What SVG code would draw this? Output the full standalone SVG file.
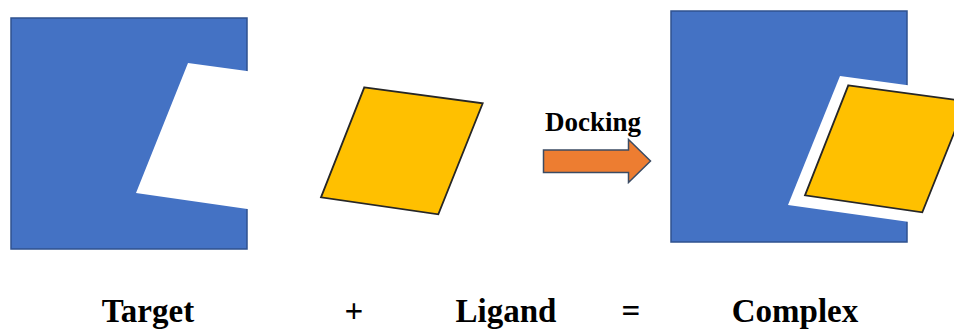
<svg xmlns="http://www.w3.org/2000/svg" width="954" height="329" viewBox="0 0 954 329">
<style>
.target{fill:#4472C4;stroke:#2F528F;stroke-width:1.5}
.gap{fill:#FFFFFF;stroke:none}
.ligand{fill:#FFC000;stroke:#262626;stroke-width:1.8;stroke-linejoin:miter}
.arrow{fill:#ED7D31;stroke:#3B4B63;stroke-width:1.5}
.lbl{font-family:"Liberation Serif","Times New Roman",serif;font-weight:bold;fill:#000}
</style>
<rect width="954" height="329" fill="#FFFFFF"/>
<g id="target">
  <rect class="target" x="11" y="18" width="236" height="231"/>
  <polygon class="gap" points="188,63 300,78.2 300,216.6 136,193"/>
</g>
<g id="ligand">
  <polygon class="ligand" points="364.3,87.3 482.7,103.3 438.3,214.3 321,197.3"/>
</g>
<g id="connectors">
  <polygon class="arrow" points="543.5,150 628.5,150 628.5,139.5 650.5,161 628.5,182.5 628.5,172.5 543.5,172.5"/>
  <text class="lbl" x="545" y="131" font-size="27">Docking</text>
</g>
<g id="complex">
  <rect class="target" x="671" y="11" width="236" height="231"/>
  <polygon class="gap" points="840,76 980,95 980,232 788,205"/>
  <polygon class="ligand" points="848.3,85.3 966.7,101.3 922.3,212.3 805,195.3"/>
</g>
<g id="labels">
  <text class="lbl" x="148" y="322" font-size="33" text-anchor="middle">Target</text>
  <text class="lbl" x="354" y="322" font-size="33" text-anchor="middle">+</text>
  <text class="lbl" x="506" y="322" font-size="33" text-anchor="middle">Ligand</text>
  <text class="lbl" x="631" y="322" font-size="33" text-anchor="middle">=</text>
  <text class="lbl" x="795" y="322" font-size="33" text-anchor="middle">Complex</text>
</g>
</svg>
